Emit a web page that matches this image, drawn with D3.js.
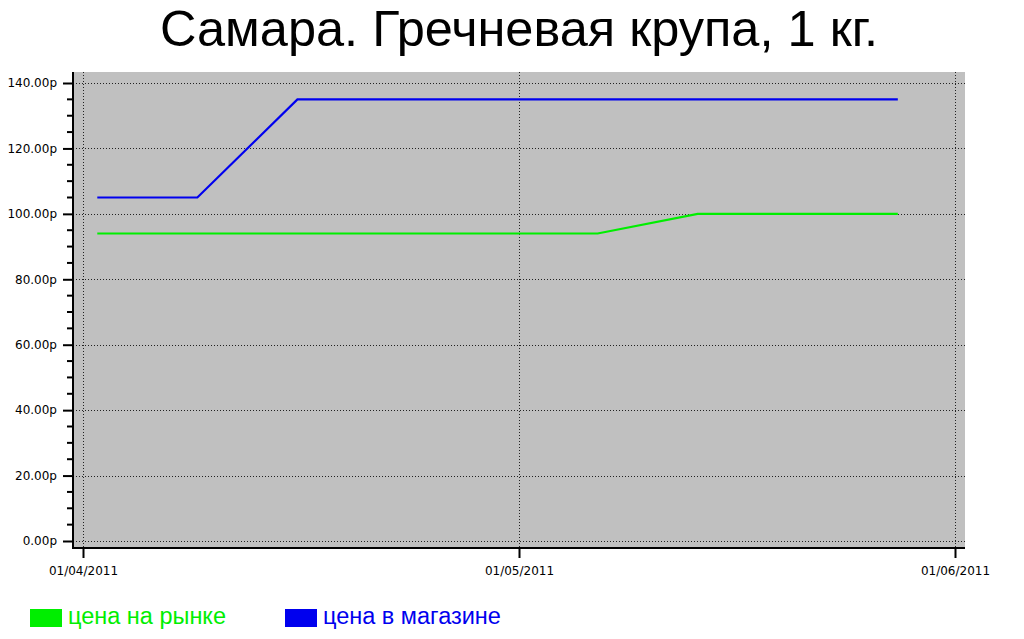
<!DOCTYPE html>
<html><head><meta charset="utf-8">
<script src="https://cdn.jsdelivr.net/npm/d3@7"></script>
<style>body{margin:0;background:#fff} svg{display:block}</style>
</head><body>
<svg id="chart" width="1024" height="639"></svg>
<script>
const title = "Самара. Гречневая крупа, 1 кг.";
const dates = ["2011-04-02","2011-04-09","2011-04-16","2011-04-23","2011-04-30","2011-05-07","2011-05-14","2011-05-21","2011-05-28"];
const marketPrice = [94,94,94,94,94,94,100,100,100];
const storePrice = [105,105,135,135,135,135,135,135,135];
const seriesNames = ["цена на рынке","цена в магазине"];
const seriesColors = ["#00ee00","#0000ee"];
const xDomain = ["2011-04-01","2011-06-01"];
const xTickLabels = ["01/04/2011","01/05/2011","01/06/2011"];
const yTickValues = [0,20,40,60,80,100,120,140];

const parse = d3.timeParse("%Y-%m-%d");
const svg = d3.select("#chart");
const frame = {left:73, right:965, top:72, bottom:548};

const x = d3.scaleTime().domain(xDomain.map(parse)).range([83,955]);
const y = d3.scaleLinear().domain([0,140]).range([541,83]);

// title
svg.append("text").attr("x",519).attr("y",46)
  .attr("text-anchor","middle").attr("font-family","Liberation Sans, Arial, sans-serif")
  .attr("font-size",50.5).attr("fill","#000").text(title);

// plot background
svg.append("rect").attr("x",frame.left).attr("y",frame.top)
  .attr("width",frame.right-frame.left).attr("height",frame.bottom-frame.top)
  .attr("fill","#c0c0c0");

// x tick positions: domain divided evenly
const [t0,t1] = x.domain();
const xTicks = xTickLabels.map((l,i)=>new Date(+t0 + i*(t1-t0)/(xTickLabels.length-1)));

// grid
const grid = svg.append("g").attr("stroke","#222").attr("stroke-width",1).attr("stroke-dasharray","1,2");
grid.selectAll("line.h").data(yTickValues).join("line").attr("class","h")
  .attr("x1",frame.left).attr("x2",frame.right)
  .attr("y1",d=>Math.round(y(d))+0.5).attr("y2",d=>Math.round(y(d))+0.5);
grid.selectAll("line.v").data(xTicks).join("line").attr("class","v")
  .attr("y1",frame.top).attr("y2",frame.bottom)
  .attr("x1",d=>Math.round(x(d))+0.5).attr("x2",d=>Math.round(x(d))+0.5);

// lines
const pts = dates.map(parse);
const line = d3.line().x((d,i)=>x(pts[i])).y(d=>y(d));
[marketPrice, storePrice].forEach((s,k)=>{
  svg.append("path").datum(s).attr("d",line).attr("fill","none")
    .attr("stroke",seriesColors[k]).attr("stroke-width",2.2);
});

// y axis
const yAxis = d3.axisLeft(y).tickValues(yTickValues)
  .tickFormat(d=>d3.format(".2f")(d)+"р").tickSize(10).tickPadding(6).tickSizeOuter(0);
const gy = svg.append("g").attr("transform",`translate(${frame.left},0)`).call(yAxis);
gy.select(".domain").remove();
gy.selectAll(".tick line").attr("stroke","#000").attr("stroke-width",2);
gy.selectAll(".tick text").attr("font-family","DejaVu Sans, Verdana, sans-serif").attr("font-size",12).attr("fill","#000");
// minor ticks
const minor = d3.range(0,141,5).filter(v=>v%20!==0);
svg.append("g").selectAll("line").data(minor).join("line")
  .attr("x1",frame.left-6).attr("x2",frame.left)
  .attr("y1",d=>y(d)).attr("y2",d=>y(d)).attr("stroke","#000").attr("stroke-width",2);

// x axis
const xAxis = d3.axisBottom(x).tickValues(xTicks)
  .tickFormat((d,i)=>xTickLabels[i]).tickSize(10).tickPadding(8).tickSizeOuter(0);
const gx = svg.append("g").attr("transform",`translate(0,${frame.bottom})`).call(xAxis);
gx.select(".domain").remove();
gx.selectAll(".tick line").attr("stroke","#000").attr("stroke-width",2);
gx.selectAll(".tick text").attr("font-family","DejaVu Sans, Verdana, sans-serif").attr("font-size",12).attr("fill","#000");

// axis lines
svg.append("line").attr("x1",frame.left).attr("x2",frame.left).attr("y1",frame.top).attr("y2",frame.bottom+1)
  .attr("stroke","#000").attr("stroke-width",2);
svg.append("line").attr("x1",frame.left-1).attr("x2",frame.right).attr("y1",frame.bottom).attr("y2",frame.bottom)
  .attr("stroke","#000").attr("stroke-width",2);

// legend
const legendX = [30, 285];
seriesNames.forEach((n,k)=>{
  svg.append("rect").attr("x",legendX[k]).attr("y",609).attr("width",32).attr("height",18)
    .attr("fill",seriesColors[k]);
  svg.append("text").attr("x",legendX[k]+38).attr("y",624)
    .attr("font-family","Liberation Sans, Arial, sans-serif").attr("font-size",23.5)
    .attr("fill",seriesColors[k]).text(n);
});
</script>
</body></html>
